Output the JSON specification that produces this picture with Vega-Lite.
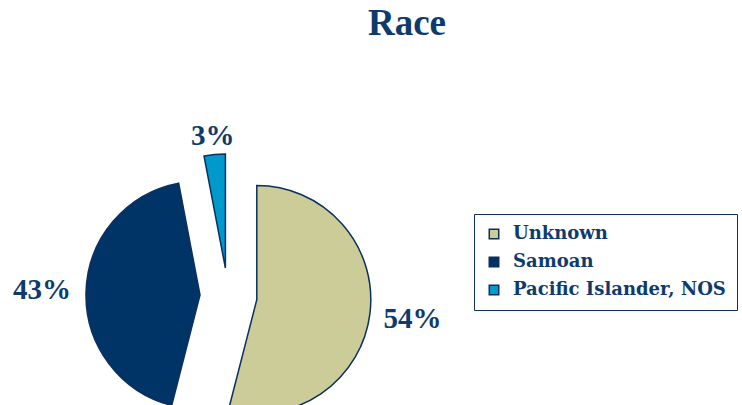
{
  "$schema": "https://vega.github.io/schema/vega-lite/v6.json",
  "autosize": {"type": "none"},
  "padding": {"top": 60, "left": 0, "right": 286, "bottom": 0},
  "width": 456,
  "height": 472,
  "background": "white",
  "title": {"text": "Race", "font": "Liberation Serif", "fontSize": 37, "fontWeight": "bold", "color": "#0E3B6E", "anchor": "middle", "frame": "group", "dx": 179, "dy": 37, "offset": 25, "baseline": "alphabetic"},
  "data": {"values": [
    {"race": "Unknown", "share": 0.54},
    {"race": "Samoan", "share": 0.43},
    {"race": "Pacific Islander, NOS", "share": 0.03}
  ]},
  "encoding": {
    "theta": {"field": "share", "type": "quantitative", "stack": true},
    "order": {"field": "share", "type": "quantitative", "sort": "descending"},
    "color": {
      "field": "race", "type": "nominal",
      "scale": {"domain": ["Unknown", "Samoan", "Pacific Islander, NOS"], "range": ["#CCCC99", "#003366", "#0099CC"]},
      "legend": {
        "orient": "none", "legendX": 474, "legendY": 154, "title": null,
        "symbolType": "square", "symbolSize": 90, "symbolStrokeColor": "#0B2F5E", "symbolStrokeWidth": 1.5,
        "labelFont": "DejaVu Serif", "labelFontWeight": "bold", "labelFontSize": 18, "labelColor": "#0E3B6E",
        "labelOffset": 10, "labelLimit": 400, "rowPadding": 10, "padding": 11, "strokeColor": "#0B2F5E",
        "encode": {
          "legend": {"update": {"strokeWidth": {"value": 2}}},
          "symbols": {"update": {"opacity": {"value": 1}}}
        }
      }
    }
  },
  "layer": [
    {
      "mark": {"type": "arc", "outerRadius": 114, "stroke": "#0B2F5E", "strokeWidth": 1.5, "xOffset": 28.8, "yOffset": 3.6},
      "encoding": {"opacity": {"condition": {"test": "datum.race === 'Unknown'", "value": 1}, "value": 0}}
    },
    {
      "mark": {"type": "arc", "outerRadius": 114, "stroke": "#0B2F5E", "strokeWidth": 1.5, "xOffset": -28, "yOffset": -0.9},
      "encoding": {"opacity": {"condition": {"test": "datum.race === 'Samoan'", "value": 1}, "value": 0}}
    },
    {
      "mark": {"type": "arc", "outerRadius": 114, "stroke": "#0B2F5E", "strokeWidth": 1.5, "xOffset": -2.6, "yOffset": -28},
      "encoding": {"opacity": {"condition": {"test": "datum.race === 'Pacific Islander, NOS'", "value": 1}, "value": 0}}
    },
    {
      "mark": {"type": "text", "radius": 186, "font": "Liberation Serif", "fontSize": 29, "fontWeight": "bold", "align": "center", "baseline": "middle"},
      "encoding": {
        "text": {"field": "share", "type": "quantitative", "format": ".0%"},
        "color": {"value": "#0E3B6E"},
        "opacity": {"condition": {"test": "datum.race !== 'Pacific Islander, NOS'", "value": 1}, "value": 0}
      }
    },
    {
      "mark": {"type": "text", "radius": 161, "font": "Liberation Serif", "fontSize": 29, "fontWeight": "bold", "align": "center", "baseline": "middle"},
      "encoding": {
        "text": {"field": "share", "type": "quantitative", "format": ".0%"},
        "color": {"value": "#0E3B6E"},
        "opacity": {"condition": {"test": "datum.race === 'Pacific Islander, NOS'", "value": 1}, "value": 0}
      }
    }
  ],
  "config": {"view": {"stroke": null}}
}
